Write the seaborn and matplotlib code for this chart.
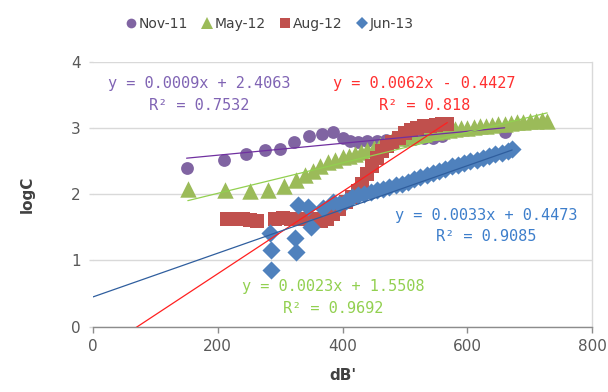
import matplotlib
matplotlib.use("Agg")
import matplotlib.pyplot as plt
from matplotlib.lines import Line2D
import numpy as np
import pandas as pd
import seaborn as sns

# Sampling campaigns: dB' against logC
nov11_x = [150, 210, 245, 275, 300, 322, 347, 367, 385, 400, 412, 425, 440, 455,
           470, 485, 500, 515, 530, 545, 560, 660]
nov11_y = [2.39, 2.51, 2.60, 2.66, 2.68, 2.79, 2.87, 2.90, 2.93, 2.84, 2.80, 2.79,
           2.80, 2.80, 2.81, 2.82, 2.82, 2.83, 2.84, 2.85, 2.87, 2.93]

may12_x = [152, 212, 252, 280, 306, 326, 340, 352, 364, 376, 388, 400, 410, 420,
           430, 440, 450, 460, 470, 480, 490, 500, 510, 520, 530, 540, 550, 560,
           570, 580, 590, 600, 610, 620, 630, 640, 650, 660, 670, 680, 690, 700,
           710, 720, 728]
may12_y = [2.07, 2.06, 2.04, 2.06, 2.12, 2.21, 2.28, 2.35, 2.42, 2.48, 2.52, 2.56,
           2.58, 2.60, 2.63, 2.66, 2.70, 2.74, 2.78, 2.81, 2.84, 2.86, 2.88, 2.90,
           2.91, 2.93, 2.94, 2.95, 2.97, 2.98, 2.99, 3.00, 3.01, 3.02, 3.03, 3.04,
           3.05, 3.06, 3.07, 3.08, 3.09, 3.10, 3.11, 3.12, 3.10]

aug12_x = [215, 228, 240, 252, 263, 292, 305, 318, 330, 342, 355, 365, 375, 385,
           395, 405, 415, 425, 432, 440, 448, 456, 464, 472, 480, 490, 500, 510,
           520, 530, 540, 550, 560, 568]
aug12_y = [1.63, 1.63, 1.62, 1.61, 1.60, 1.62, 1.64, 1.63, 1.62, 1.63, 1.62, 1.60,
           1.62, 1.70, 1.78, 1.88, 1.95, 2.05, 2.15, 2.30, 2.42, 2.55, 2.65, 2.72,
           2.78, 2.85, 2.92, 2.96, 3.00, 3.02, 3.03, 3.04, 3.05, 3.05]

jun13_x = [284, 286, 286, 324, 325, 329, 345, 350, 369, 385, 395, 405, 415, 425,
           435, 445, 455, 465, 475, 485, 495, 505, 515, 525, 535, 545, 555, 565,
           575, 585, 595, 605, 615, 625, 635, 645, 655, 665, 672]
jun13_y = [1.41, 1.16, 0.86, 1.33, 1.13, 1.84, 1.81, 1.51, 1.79, 1.88, 1.85, 1.90,
           1.95, 1.98, 2.00, 2.03, 2.06, 2.08, 2.10, 2.14, 2.15, 2.18, 2.22, 2.25,
           2.28, 2.32, 2.35, 2.38, 2.42, 2.44, 2.47, 2.50, 2.52, 2.55, 2.57, 2.60,
           2.62, 2.65, 2.68]

series_names = ["Nov-11", "May-12", "Aug-12", "Jun-13"]

# Linear trendlines: y = slope * x + intercept
fit_slopes = [0.0009, 0.0023, 0.0062, 0.0033]
fit_intercepts = [2.4063, 1.5508, -0.4427, 0.4473]
fit_r2 = ["0.7532", "0.9692", "0.818", "0.9085"]
fit_backcast_to_zero = [False, False, True, True]

x_ticks = [0, 200, 400, 600, 800]
y_ticks = [0, 1, 2, 3, 4]

frames = []
for name, xs, ys in zip(series_names,
                        [nov11_x, may12_x, aug12_x, jun13_x],
                        [nov11_y, may12_y, aug12_y, jun13_y]):
    frames.append(pd.DataFrame({"dB": xs, "logC": ys, "series": name}))
df = pd.concat(frames, ignore_index=True)

marker_colors = ["#8064A2", "#9BBB59", "#C0504D", "#4F81BD"]
markers = ["o", "^", "s", "D"]
sizes = [85, 140, 100, 85]
legend_msizes = [7.0, 8.0, 6.6, 6.0]
line_colors = ["#7030A0", "#92D050", "#FF2020", "#2F5E9E"]
text_colors = ["#8064B4", "#92D050", "#FF3030", "#3D7ECB"]
label_pos = [(170, 3.50), (385, 0.44), (531, 3.50), (630, 1.52)]

sns.set_theme(style="white")
plt.rcParams["font.family"] = ["DejaVu Sans"]

fig = plt.figure(figsize=(6.08, 3.92), dpi=100)
ax = fig.add_axes([0.153, 0.167, 0.8207, 0.676])

for name, c, m, s in zip(series_names, marker_colors, markers, sizes):
    sub = df[df["series"] == name]
    sns.scatterplot(data=sub, x="dB", y="logC", ax=ax, color=c, marker=m, s=s,
                    linewidth=0, legend=False, zorder=3)

for name, slope, icpt, back, lc in zip(series_names, fit_slopes, fit_intercepts,
                                       fit_backcast_to_zero, line_colors):
    sub = df[df["series"] == name]
    x0 = 0 if back else sub["dB"].min()
    x1 = sub["dB"].max()
    xs = np.array([x0, x1])
    ax.plot(xs, slope * xs + icpt, color=lc, lw=0.9, zorder=4)

for slope, icpt, r2, tc, (px, py) in zip(fit_slopes, fit_intercepts, fit_r2,
                                         text_colors, label_pos):
    sign = "+" if icpt >= 0 else "-"
    txt = f"y = {slope:.4f}x {sign} {abs(icpt):.4f}\nR\u00b2 = {r2}"
    ax.text(px, py, txt, color=tc, ha="center", va="center", fontsize=11,
            family="DejaVu Sans Mono", linespacing=1.55, zorder=5)

ax.set_xlim(0, 800)
ax.set_ylim(0, 4)
ax.set_xticks(x_ticks)
ax.set_yticks(y_ticks)
ax.yaxis.grid(True, color="#D9D9D9", lw=1)
ax.xaxis.grid(False)
ax.set_axisbelow(True)

for side in ["left", "top"]:
    ax.spines[side].set_visible(False)
ax.spines["right"].set_color("#D9D9D9")
ax.spines["right"].set_linewidth(1)
ax.spines["bottom"].set_color("#8C8C8C")
ax.spines["bottom"].set_linewidth(1)

ax.tick_params(axis="x", bottom=True, direction="out", length=4, width=1,
               color="#8C8C8C", labelsize=11, labelcolor="#595959", pad=5)
ax.tick_params(axis="y", left=True, direction="out", length=3, width=1,
               color="#D9D9D9", labelsize=11, labelcolor="#595959", pad=6)

ax.set_xlabel("dB'", fontsize=11, fontweight="bold", color="#404040", labelpad=10)
ax.set_ylabel("logC", fontsize=11, fontweight="bold", color="#404040", labelpad=26)

handles = [Line2D([], [], linestyle="none", marker=m, color=c, markersize=ms,
                  markeredgewidth=0)
           for m, c, ms in zip(markers, marker_colors, legend_msizes)]
leg = ax.legend(handles, series_names, loc="center", bbox_to_anchor=(0.442, 0.939),
                bbox_transform=fig.transFigure, ncol=4, frameon=False,
                fontsize=10, handletextpad=0.05, columnspacing=0.9,
                handlelength=1.0)
for t in leg.get_texts():
    t.set_color("#404040")

fig.savefig("out.png", dpi=100)
